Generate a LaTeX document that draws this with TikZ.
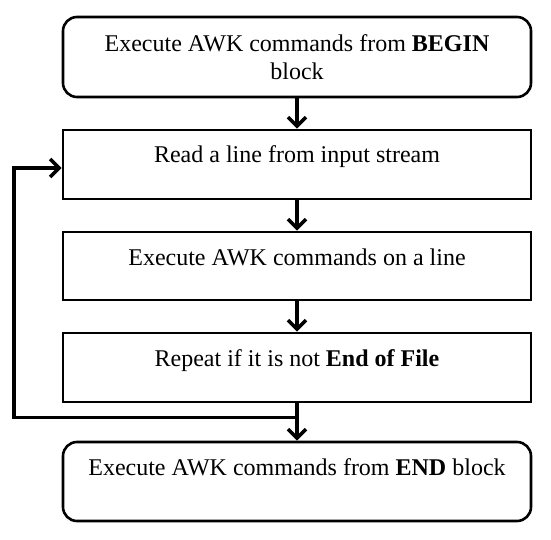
\documentclass[tikz,border=0pt]{standalone}
\usepackage{fontspec}
\setmainfont{Liberation Serif}
\usetikzlibrary{calc,arrows.meta}

\tikzset{
	stage/.style={draw, line width=2.6pt, minimum width=468pt, inner sep=0pt, align=center},
	terminal/.style={stage, rounded corners=14pt},
	flow/.style={line width=3.6pt, -{Straight Barb[length=9pt,width=18pt]}}
}

\begin{document}
\begin{tikzpicture}[x=1pt, y=-1pt, font=\fontsize{24}{28}\selectfont]


	\def \midx{297};
	\def \backx{14};

	\useasboundingbox (0,0) rectangle (551,540);

	% blocks
	\node[terminal, minimum height=80pt] (begin) at (\midx, 57) {Execute AWK commands from \textbf{BEGIN}\\block};
	\node[stage, minimum height=69pt, text height=17pt, text depth=20pt] (read) at (\midx, 164.5) {Read a line from input stream};
	\node[stage, minimum height=68pt, text height=17pt, text depth=19pt] (exec) at (\midx, 266) {Execute AWK commands on a line};
	\node[stage, minimum height=69pt, text height=17pt, text depth=20pt] (repeat) at (\midx, 367.5) {Repeat if it is not \textbf{End of File}};
	\node[terminal, minimum height=79pt, text height=17pt, text depth=30pt] (end) at (\midx, 481.5) {Execute AWK commands from \textbf{END} block};

	% arrows
	\draw[flow] (begin) -- (read);
	\draw[flow] (read) -- (exec);
	\draw[flow] (exec) -- (repeat);
	\draw[flow] (repeat) -- (end);

	% loop back
	\coordinate (turn) at ($(repeat.south)!0.375!(end.north)$);
	\coordinate (back) at (\backx, 168);
	\draw[flow] (turn) -| (back) -- (back -| read.west);

\end{tikzpicture}
\end{document}
